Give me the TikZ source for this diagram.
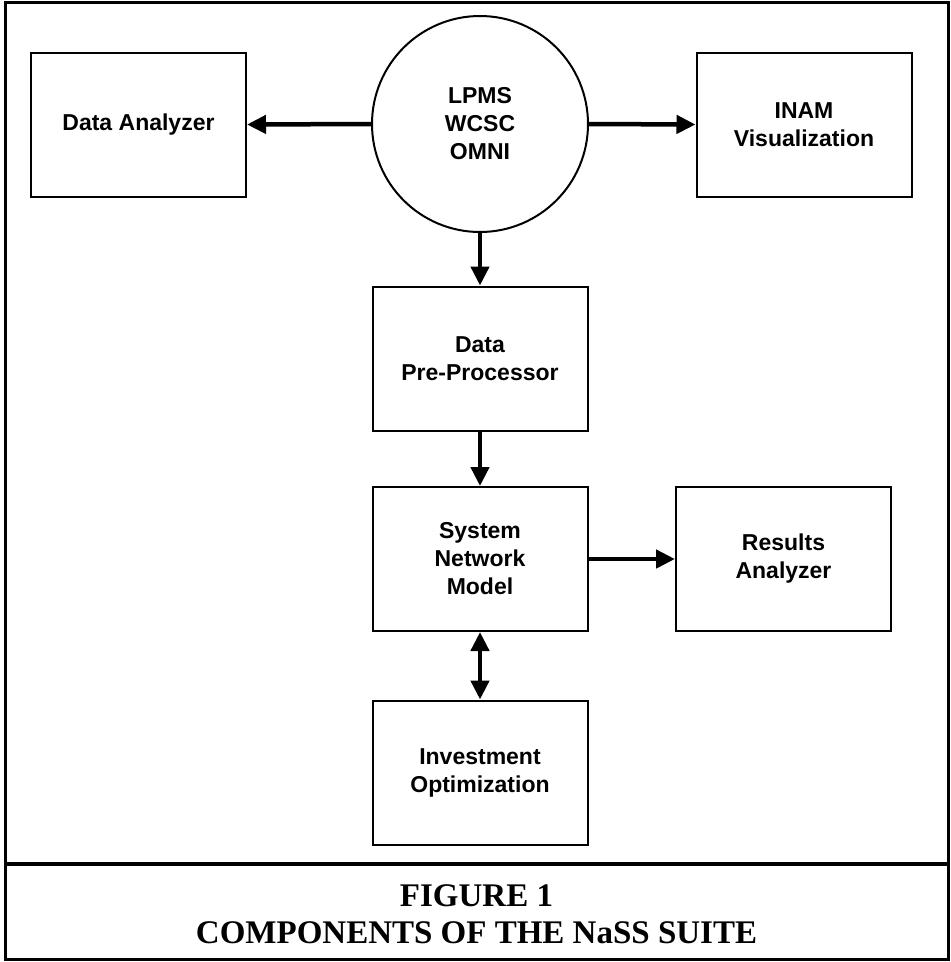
\documentclass[tikz,border=0pt]{standalone}
\usepackage{fontspec}
\setmainfont{Liberation Serif}
\setsansfont{Liberation Sans}
\usetikzlibrary{arrows.meta}

\begin{document}
\begin{tikzpicture}[x=1pt,y=-1pt,>={Triangle[length=19pt,width=18pt]},
		box/.style={draw,line width=2pt,minimum width=215pt,minimum height=144pt,align=center,
			font=\sffamily\bfseries\fontsize{23}{28}\selectfont},
		hub/.style={draw,circle,line width=2pt,minimum size=216pt,inner sep=0pt,align=center,
			font=\sffamily\bfseries\fontsize{23}{28}\selectfont},
		link/.style={->,line width=4.5pt},
		caption/.style={anchor=base,font=\rmfamily\bfseries\fontsize{33}{37}\selectfont}]
	\useasboundingbox (0,0) rectangle (951,962);
	% frame and caption bar
	\draw[line width=3pt] (5,2) rectangle (948,959);
	\draw[line width=4pt] (5,864)--(948,864);
	\node[caption] (fig) at (476.5,906) {FIGURE 1};
	\node[caption] (figtitle) at (476.5,943) {COMPONENTS OF THE NaSS SUITE};
	% components
	\node[hub] (lpms) at (480,124) {LPMS\\WCSC\\OMNI};
	\node[box] (analyzer) at (138.5,124.5) {Data Analyzer};
	\node[box] (inam) at (804,124.5) {INAM\\Visualization};
	\node[box] (preproc) at (480,358.5) {Data\\Pre-Processor};
	\node[box] (snm) at (480,559) {System\\Network\\Model};
	\node[box] (results) at (783.5,559) {Results\\Analyzer};
	\node[box] (invest) at (480,772.5) {Investment\\Optimization};
	% data flow
	\draw[link] (lpms.west)--(analyzer.east);
	\draw[link] (lpms.east)--(inam.west);
	\draw[link] (lpms.south)--(preproc.north);
	\draw[link] (preproc.south)--(snm.north);
	\draw[link] (snm.east)--(results.west);
	\draw[link,<->] (snm.south)--(invest.north);
\end{tikzpicture}
\end{document}
